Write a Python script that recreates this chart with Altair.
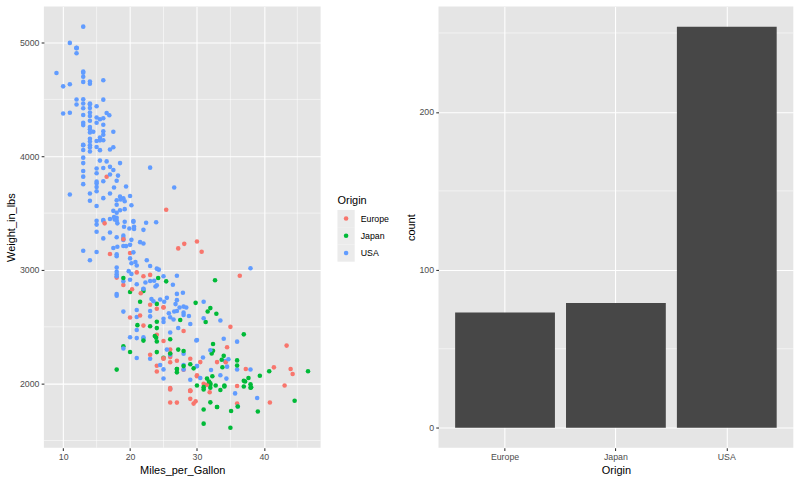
import altair as alt
import pandas as pd

FONT = "Liberation Sans"
PANEL = "#E5E5E5"
KEY_BG = "#EBEBEB"
BAR_FILL = "#474747"

ORIGINS = ["Europe", "Japan", "USA"]
COLORS = ["#F8766D", "#00BA38", "#619CFF"]
CODES = {"E": "Europe", "J": "Japan", "U": "USA"}

MPG = [
    18, 15, 18, 16, 17, 15, 14, 14, 14, 15,
    None, None, None, None, None, 15, 14, None, 15, 14,
    24, 22, 18, 21, 27, 26, 25, 24, 25, 26,
    21, 10, 10, 11, 9, 27, 28, 25, 25, None,
    19, 16, 17, 19, 18, 14, 14, 14, 14, 12,
    13, 13, 18, 22, 19, 18, 23, 28, 30, 30,
    31, 35, 27, 26, 24, 25, 23, 20, 21, 13,
    14, 15, 14, 17, 11, 13, 12, 13, 19, 15,
    13, 13, 14, 18, 22, 21, 26, 22, 28, 23,
    28, 27, 13, 14, 13, 14, 15, 12, 13, 13,
    14, 13, 12, 13, 18, 16, 18, 18, 23, 26,
    11, 12, 13, 12, 18, 20, 21, 22, 18, 19,
    21, 26, 15, 16, 29, 24, 20, 19, 15, 24,
    20, 11, 20, 21, 19, 15, 31, 26, 32, 25,
    16, 16, 18, 16, 13, 14, 14, 14, 29, 26,
    26, 31, 32, 28, 24, 26, 24, 26, 31, 19,
    18, 15, 15, 16, 15, 16, 14, 17, 16, 15,
    18, 21, 20, 13, 29, 23, 20, 23, 24, 25,
    24, 18, 29, 19, 23, 23, 22, 25, 33, 28,
    25, 25, 26, 27, 17.5, 16, 15.5, 14.5, 22, 22,
    24, 22.5, 29, 24.5, 29, 33, 20, 18, 18.5, 17.5,
    29.5, 32, 28, 26.5, 20, 13, 19, 19, 16.5, 16.5,
    13, 13, 13, 31.5, 30, 36, 25.5, 33.5, 17.5, 17,
    15.5, 15, 17.5, 20.5, 19, 18.5, 16, 15.5, 15.5, 16,
    29, 24.5, 26, 25.5, 30.5, 33.5, 30, 30.5, 22, 21.5,
    21.5, 43.1, 36.1, 32.8, 39.4, 36.1, 19.9, 19.4, 20.2, 19.2,
    20.5, 20.2, 25.1, 20.5, 19.4, 20.6, 20.8, 18.6, 18.1, 19.2,
    17.7, 18.1, 17.5, 30, 27.5, 27.2, 30.9, 21.1, 23.2, 23.8,
    23.9, 20.3, 17, 21.6, 16.2, 31.5, 29.5, 21.5, 19.8, 22.3,
    20.2, 20.6, 17, 17.6, 16.5, 18.2, 16.9, 15.5, 19.2, 18.5,
    31.9, 34.1, 35.7, 27.4, 25.4, 23, 27.2, 23.9, 34.2, 34.5,
    31.8, 37.3, 28.4, 28.8, 26.8, 33.5, 41.5, 38.1, 32.1, 37.2,
    28, 26.4, 24.3, 19.1, 34.3, 29.8, 31.3, 37, 32.2, 46.6,
    27.9, 40.8, 44.3, 43.4, 36.4, 30, 44.6, 40.9, 33.8, 29.8,
    32.7, 23.7, 35, 23.6, 32.4, 27.2, 26.6, 25.8, 23.5, 30,
    39.1, 39, 35.1, 32.3, 37, 37.7, 34.1, 34.7, 34.4, 29.9,
    33, 34.5, 33.7, 32.4, 32.9, 31.6, 28.1, None, 30.7, 25.4,
    24.2, 22.4, 26.6, 20.2, 17.6, 28, 27, 34, 31, 29,
    27, 24, 23, 36, 37, 31, 38, 36, 36, 36,
    34, 38, 32, 38, 25, 38, 26, 22, 32, 36,
    27, 27, 44, 32, 28, 31,
]

WEIGHT = [
    3504, 3693, 3436, 3433, 3449, 4341, 4354, 4312, 4425, 3850,
    3090, 4142, 4034, 4166, 3850, 3563, 3609, 3353, 3761, 3086,
    2372, 2833, 2774, 2587, 2130, 1835, 2672, 2430, 2375, 2234,
    2648, 4615, 4376, 4382, 4732, 2130, 2264, 2228, 2046, 1978,
    2634, 3439, 3329, 3302, 3288, 4209, 4464, 4154, 4096, 4955,
    4746, 5140, 2962, 2408, 3282, 3139, 2220, 2123, 2074, 2065,
    1773, 1613, 1834, 1955, 2278, 2126, 2254, 2408, 2226, 4274,
    4385, 4135, 4129, 3672, 4633, 4502, 4456, 4422, 2330, 3892,
    4098, 4294, 4077, 2933, 2511, 2979, 2189, 2395, 2288, 2506,
    2164, 2100, 4100, 3672, 3988, 4042, 3777, 4952, 4464, 4363,
    4237, 4735, 4951, 3821, 3121, 3278, 2945, 3021, 2904, 1950,
    4997, 4906, 4654, 4499, 2789, 2279, 2401, 2379, 2124, 2310,
    2472, 2265, 4082, 4278, 1867, 2158, 2582, 2868, 3399, 2660,
    2807, 3664, 3102, 2875, 2901, 3336, 1950, 2451, 1836, 2542,
    3781, 3632, 3613, 4141, 4699, 4457, 4638, 4257, 2219, 1963,
    2300, 1649, 2003, 2125, 2108, 2246, 2489, 2391, 2000, 3264,
    3459, 3432, 3158, 4668, 4440, 4498, 4657, 3907, 3897, 3730,
    3785, 3039, 3221, 3169, 2171, 2639, 2914, 2592, 2702, 2223,
    2545, 2984, 1937, 3211, 2694, 2957, 2945, 2671, 1795, 2464,
    2220, 2572, 2255, 2202, 4215, 4190, 3962, 4215, 3233, 3353,
    3012, 3085, 2035, 2164, 1937, 1795, 3651, 3574, 3645, 3193,
    1825, 1990, 2155, 2565, 3150, 3940, 3270, 2930, 3820, 4380,
    4055, 3870, 3755, 2045, 2155, 1825, 2300, 1945, 3880, 4060,
    4140, 4295, 3520, 3425, 3630, 3525, 4220, 4165, 4325, 4335,
    1940, 2740, 2265, 2755, 2051, 2075, 1985, 2190, 2815, 2600,
    2720, 1985, 1800, 1985, 2070, 1800, 3365, 3735, 3570, 3535,
    3155, 2965, 2720, 3430, 3210, 3380, 3070, 3620, 3410, 3425,
    3445, 3205, 4080, 2155, 2560, 2300, 2230, 2515, 2745, 2855,
    2405, 2830, 3140, 2795, 3410, 1990, 2135, 3245, 2990, 2890,
    3265, 3360, 3840, 3725, 3955, 3830, 4360, 4054, 3605, 3940,
    1925, 1975, 1915, 2670, 3530, 3900, 3190, 3420, 2200, 2150,
    2020, 2130, 2670, 2595, 2700, 2556, 2144, 1968, 2120, 2019,
    2678, 2870, 3003, 3381, 2188, 2711, 2542, 2434, 2265, 2110,
    2800, 2110, 2085, 2335, 2950, 3250, 1850, 1835, 2145, 1845,
    2910, 2420, 2500, 2905, 2290, 2490, 2635, 2620, 2725, 2385,
    1755, 1875, 1760, 2065, 1975, 2050, 1985, 2215, 2045, 2380,
    2190, 2320, 2210, 2350, 2615, 2635, 3230, 2800, 3160, 2900,
    2930, 3415, 3725, 3060, 3465, 2605, 2640, 2395, 2575, 2525,
    2735, 2865, 3035, 1980, 2025, 1970, 2125, 2125, 2160, 2205,
    2245, 1965, 1965, 1995, 2945, 3015, 2585, 2835, 2665, 2370,
    2950, 2790, 2130, 2295, 2625, 2720,
]

# E = Europe, J = Japan, U = USA, one letter per car in the order above
ORIGIN_CODES = (
    "UUUUUUUUUU" "EUUUUUUUUU" "JUUUJEEEEE" "UUUUUJUJUE" "UUUUUUUUUU"
    "UUUUUUUEEE" "JJEUJUEUUU" "UUUUUUUUJU" "UUUEEEEUJJ" "UJUUUUUUUU"
    "UUUUUUUUUE" "UUUUUJUJJU" "UEUUEEEEUE" "JUUUUUJUJU" "UUUUUUUUEE"
    "EJJUEEJJEU" "UUUUUUUUUU" "UUUUJUUUJE" "JUEUEEEEJE" "EUUEUUUUUU"
    "UUUUEJUUUU" "EJJUEUEJEU" "UUUJUEUJUU" "UUUUUUUUUU" "EUJUUUJEJE"
    "JEUJJJUUUU" "UUUUUUUUUU" "UUUUJJUJUU" "JEEEEEJUUU" "UUUUUUUUUU"
    "EJUUEUEUUU" "JEUUUUEJUJ" "UUUUEJJJJJ" "UJEEEEJEJE" "JJEUJUUUUU"
    "JUJJJJJUUU" "EEJJJJEEEJ" "JUUUUUUUUU" "UUUEJJUUJJ" "JJJJUUUUJU"
    "UUEUUU"
)

X_TICKS = [10, 20, 30, 40]
X_MINOR = [15, 25, 35, 45]
Y_TICKS = [2000, 3000, 4000, 5000]
Y_MINOR = [1500, 2500, 3500, 4500]
COUNT_TICKS = [0, 100, 200]
COUNT_MINOR = [50, 150, 250]
LEGEND_TITLE = "Origin"

cars = pd.DataFrame({
    "Miles_per_Gallon": MPG,
    "Weight_in_lbs": WEIGHT,
    "Origin": [CODES[c] for c in ORIGIN_CODES],
})


def expanded(lo, hi, mult=0.05):
    pad = (hi - lo) * mult
    return [lo - pad, hi + pad]


x_dom = expanded(cars["Miles_per_Gallon"].min(), cars["Miles_per_Gallon"].max())
y_dom = expanded(cars["Weight_in_lbs"].min(), cars["Weight_in_lbs"].max())
counts = cars["Origin"].value_counts()
c_dom = expanded(0, counts.max())

# panel sizes
SC_W, SC_H = 277.4, 442.3
BAR_W = 355.7
LEG_W = 85
GAP = 16.3
KEY = 17.3


def axis(**kw):
    opts = dict(
        domain=False, grid=True, gridColor="white", gridWidth=1.07,
        tickColor="#333333", tickSize=2.75, tickWidth=1.07,
        labelColor="#4D4D4D", labelFont=FONT, labelFontSize=8.8, labelPadding=2.2,
        titleFont=FONT, titleFontSize=11, titleFontWeight="normal",
        titleColor="black", titlePadding=2.75,
    )
    opts.update(kw)
    return alt.Axis(**opts)


color_scale = alt.Scale(domain=ORIGINS, range=COLORS)
x_scale = alt.Scale(domain=x_dom, nice=False, zero=False)
y_scale = alt.Scale(domain=y_dom, nice=False, zero=False)
x_axis = axis(values=X_TICKS, format="d", title="Miles_per_Gallon")
y_axis = axis(values=Y_TICKS, format="d", title="Weight_in_lbs")

# scatter: thin minor grid lines, then the cars
minor_x = alt.Chart(pd.DataFrame({"Miles_per_Gallon": X_MINOR})).mark_rule(
    color="white", strokeWidth=0.53
).encode(x=alt.X("Miles_per_Gallon:Q", scale=x_scale, axis=x_axis))
minor_y = alt.Chart(pd.DataFrame({"Weight_in_lbs": Y_MINOR})).mark_rule(
    color="white", strokeWidth=0.53
).encode(y=alt.Y("Weight_in_lbs:Q", scale=y_scale, axis=y_axis))

points = alt.Chart(cars).transform_filter(
    "isValid(datum.Miles_per_Gallon)"
).mark_circle(size=21, opacity=1).encode(
    x=alt.X("Miles_per_Gallon:Q", scale=x_scale, axis=x_axis),
    y=alt.Y("Weight_in_lbs:Q", scale=y_scale, axis=y_axis),
    color=alt.Color("Origin:N", scale=color_scale, legend=None),
)

scatter = alt.layer(minor_x, minor_y, points).properties(
    width=SC_W, height=SC_H, view=alt.ViewBackground(fill=PANEL, stroke=None)
)

# legend drawn from the origin categories, centred beside the scatter panel
legend_df = pd.DataFrame({"entry": [LEGEND_TITLE] + ORIGINS})
n_rows = len(ORIGINS) + 1
leg_top = (SC_H - n_rows * KEY) / 2
leg_y = alt.Y("entry:N", axis=None,
              scale=alt.Scale(domain=[LEGEND_TITLE] + ORIGINS,
                              range=[leg_top, leg_top + n_rows * KEY],
                              paddingInner=0, paddingOuter=0))
leg_base = alt.Chart(legend_df).encode(y=leg_y)
not_title = alt.datum.entry != LEGEND_TITLE

leg_keys = leg_base.transform_filter(not_title).mark_rect(color=KEY_BG).encode(
    x=alt.value(0), x2=alt.value(KEY)
)
leg_dots = leg_base.transform_filter(not_title).mark_circle(size=21, opacity=1).encode(
    x=alt.value(KEY / 2),
    color=alt.Color("entry:N", scale=color_scale, legend=None),
)
leg_labels = leg_base.transform_filter(not_title).mark_text(
    align="left", baseline="middle", font=FONT, fontSize=8.8, color="black"
).encode(x=alt.value(KEY + 6), text="entry:N")
leg_title = leg_base.transform_filter(alt.datum.entry == LEGEND_TITLE).mark_text(
    align="left", baseline="middle", font=FONT, fontSize=11, color="black"
).encode(x=alt.value(0), text="entry:N")

legend = alt.layer(leg_keys, leg_dots, leg_labels, leg_title).properties(
    width=LEG_W, height=SC_H
)

# bar chart of counts per origin
c_scale = alt.Scale(domain=c_dom, nice=False)
c_axis = axis(values=COUNT_TICKS, format="d", title="count")
minor_c = alt.Chart(pd.DataFrame({"n": COUNT_MINOR})).mark_rule(
    color="white", strokeWidth=0.53
).encode(y=alt.Y("n:Q", scale=c_scale, axis=c_axis))

bars = alt.Chart(cars).mark_bar(color=BAR_FILL).encode(
    x=alt.X("Origin:N", sort=ORIGINS,
            scale=alt.Scale(domain=ORIGINS, paddingInner=0.1, paddingOuter=0.15),
            axis=axis(title="Origin", labelAngle=0, bandPosition=0.5)),
    y=alt.Y("count():Q", scale=c_scale, axis=c_axis),
)

bar_chart = alt.layer(minor_c, bars).properties(
    width=BAR_W, height=SC_H, view=alt.ViewBackground(fill=PANEL, stroke=None)
)

chart = alt.hconcat(scatter, legend, bar_chart, spacing=GAP, bounds="flush").properties(
    padding={"left": 5, "top": 5, "right": 6, "bottom": 5},
    background="white",
).configure_view(stroke=None)

chart.save("out.html", embed_options={"renderer": "svg", "actions": False})
